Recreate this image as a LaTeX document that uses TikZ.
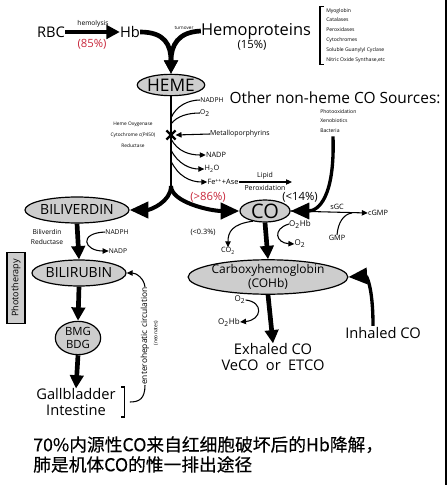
\documentclass[tikz,border=0pt]{standalone}
\usepackage{fontspec}
\setmainfont{Open Sans}
\newfontfamily\cjk[FakeBold=0.3]{Noto Sans CJK SC}
\usetikzlibrary{arrows.meta,shapes.geometric,shapes.misc}
\definecolor{pctred}{RGB}{200,40,60}
\definecolor{bubble}{RGB}{205,205,205}
\newcommand\fsz[2]{\fontsize{#1}{#2}\selectfont}

\begin{document}
\begin{tikzpicture}[
			x = 0.75pt, y = -0.75pt,
			every node/.style = {inner sep=0pt},
			bub/.style = {ellipse, draw, line width=0.9pt, fill=bubble},
			fat/.style = {line width=3.5pt, -{Triangle[length=10pt,width=10pt]}},
			bigfat/.style = {line width=3pt, -{Triangle[length=14pt,width=12pt]}},
			thin/.style = {line width=0.8pt, -{Triangle[length=4.5pt,width=4pt]}},
			wire/.style = {line width=0.8pt}
			]
			\useasboundingbox (0,0) rectangle (448,485);
			\draw[line width=1.5pt] (446,0) -- (446,485);

			% top row
			\node[font=\fsz{11}{13}] (rbc) at (51,32) {RBC};
			\node[font=\fsz{11}{13}] (hb) at (130,32) {Hb};
			\node[font=\fsz{12.3}{13}] (hemo) at (256,31) {Hemoproteins};
			\node[font=\fsz{5}{6}] (hly) at (93,24) {hemolysis};
			\node[font=\fsz{8.5}{10},text=pctred] (p85) at (92,44) {(85\%)};
			\node[font=\fsz{8.5}{10}] (p15) at (252,45) {(15\%)};
			\node[font=\fsz{3.5}{4}] (turn) at (184,28) {turnover};
			\node[font=\fsz{3.8}{7.4},align=left,anchor=north west] (hplist) at (326,8)
				{Myoglobin\\Catalases\\Peroxidases\\Cytochromes\\Soluble Guanylyl Cyclase\\Nitric Oxide Synthase,etc};
			\draw[wire,line width=1pt] ([xshift=-1.5pt,yshift=1pt]hplist.north west) -- ++(-3pt,0)
				|- ([xshift=-1.5pt,yshift=-1pt]hplist.south west);

			\node[bub,minimum width=46.5pt,minimum height=16pt,font=\fsz{13}{14}] (heme) at (171,85) {HEME};
			\draw[fat] (rbc.east) -- (hb.west);
			\draw[fat] (hb.east) .. controls (165,32) and (171,45) .. (heme.north);
			\draw[fat] (hemo.west) .. controls (178,32) and (171,45) .. (heme.north);

			% heme oxygenase line
			\coordinate (split) at (171,186);
			\draw[line width=1.6pt] (heme.south) -- (split);
			\node[cross out,draw,line width=1.8pt,minimum size=5pt] (ho) at (171,135) {};
			\node[font=\fsz{3.6}{8.4},align=center] (honame) at (133,135) {Heme Oxygenase\\Cytochrome c(P450)\\Reductase};
			\node[font=\fsz{5.2}{6}] (metal) at (240,134) {Metalloporphyrins};
			\draw[thin] (metal.west) -- (ho.east);

			\node[font=\fsz{5}{6}] (nadph1) at (212,100) {NADPH};
			\node[font=\fsz{5}{6}] (o2a) at (205,113) {O\textsubscript{2}};
			\coordinate (j1) at (171,118);
			\coordinate (j2) at (171,124);
			\draw[wire] (j1) .. controls (176,106) and (188,100) .. (nadph1.west);
			\draw[wire] (j2) .. controls (177,116) and (188,113) .. (o2a.west);

			\node[font=\fsz{5.5}{6}] (nadp1) at (216,155) {NADP};
			\node[font=\fsz{5.5}{6}] (h2o) at (212,169) {H\textsubscript{2}O};
			\node[font=\fsz{5.5}{6}] (fe) at (223,182) {Fe\textsuperscript{++}+Ase};
			\coordinate (j3) at (171,139);
			\coordinate (j4) at (171,150);
			\coordinate (j5) at (171,161);
			\draw[thin] (j3) .. controls (178,152) and (190,155) .. (nadp1.west);
			\draw[thin] (j4) .. controls (178,164) and (190,169) .. (h2o.west);
			\draw[thin] (j5) .. controls (178,176) and (190,182) .. (fe.west);

			\node[font=\fsz{5.2}{6}] (lipid) at (265,176) {Lipid};
			\node[font=\fsz{5.2}{6}] (perox) at (265,188) {Peroxidation};
			\coordinate (lpend) at (292,182);
			\draw[thin] (fe.east) -- (lpend);

			% CO sources
			\node[font=\fsz{11.6}{13}] (other) at (335,98) {Other non-heme CO Sources:};
			\node[font=\fsz{3.8}{7.1},align=left,anchor=north west] (srclist) at (320,109)
				{Photooxidation\\Xenobiotics\\Bacteria};

			\node[bub,minimum width=37.5pt,minimum height=16.5pt,font=\fsz{15}{16}] (co) at (265,211) {CO};
			\node[bub,minimum width=65pt,minimum height=19.5pt,font=\fsz{10.5}{11}] (bv) at (77,210) {BILIVERDIN};
			\draw[bigfat] (split) .. controls (171,202) and (150,210) .. (bv.east);
			\draw[bigfat] (split) .. controls (171,202) and (210,211) .. (co.west);
			\node[font=\fsz{8.5}{9},text=pctred] (p86) at (208,197) {(>86\%)};
			\node[font=\fsz{8.5}{9}] (p14) at (300,197) {(<14\%)};
			\draw[bigfat,line width=2.5pt] ([xshift=-4pt,yshift=-3pt]srclist.south) .. controls (335,198) and (318,211) .. (co.east);

			\node[font=\fsz{5.5}{6}] (cgmp) at (378,213) {cGMP};
			\node[font=\fsz{5.5}{6}] (sgc) at (337,207) {sGC};
			\node[font=\fsz{5.5}{6}] (gmp) at (337,238) {GMP};
			\coordinate (gmpjoin) at (352,213);
			\draw[thin] (co.east) -- (cgmp.west);
			\draw[wire] (gmp.north) .. controls (338,222) and (344,214) .. (gmpjoin);

			\node[font=\fsz{5.5}{6}] (p03) at (203,232) {(<0.3\%)};
			\node[font=\fsz{5.5}{6}] (co2) at (228,251) {CO\textsubscript{2}};
			\draw[thin] (co.220) .. controls (232,224) and (228,232) .. (co2.north);
			\node[font=\fsz{6}{7}] (o2hb1) at (300,224) {O\textsubscript{2}Hb};
			\node[font=\fsz{6}{7}] (o2b) at (300,244) {O\textsubscript{2}};
			\draw[thin] (o2hb1.west) .. controls (272,229) and (276,243) .. (o2b.west);

			% COHb
			\node[bub,minimum width=97.5pt,minimum height=20pt,align=center,font=\fsz{9}{10}] (cohb) at (268,277)
				{Carboxyhemoglobin\\(COHb)};
			\draw[fat] (co.south) -- (cohb.north);
			\node[font=\fsz{6}{7}] (o2c) at (240,300) {O\textsubscript{2}};
			\node[font=\fsz{6}{7}] (o2hb2) at (229,322) {O\textsubscript{2}Hb};
			\draw[thin] (o2c.east) .. controls (264,302) and (262,320) .. (o2hb2.east);
			\node[font=\fsz{11}{11.5},align=center] (exh) at (273,357) {Exhaled CO\\VeCO\hspace{0.5em}or\hspace{0.5em}ETCO};
			\draw[fat] (cohb.south) -- (exh.north);
			\node[font=\fsz{11}{12}] (inh) at (383,333) {Inhaled CO};
			\draw[bigfat,line width=2.5pt] ([xshift=-7.5pt,yshift=1pt]inh.north) .. controls (373,285) and (366,276) .. (cohb.east);

			% bilirubin branch
			\node[font=\fsz{5}{7.5},align=center] (bvr) at (47,237) {Biliverdin\\Reductase};
			\node[bub,minimum width=58.5pt,minimum height=19.5pt,font=\fsz{10.5}{11}] (br) at (79,273) {BILIRUBIN};
			\draw[fat] (bv.south) -- (br.north);
			\node[font=\fsz{5}{6}] (nadph2) at (117,232) {NADPH};
			\node[font=\fsz{5}{6}] (nadp2) at (118,251) {NADP};
			\draw[thin] (nadph2.west) .. controls (78,233) and (84,251) .. (nadp2.west);
			\node[draw,fill=bubble,line width=0.9pt,rotate=90,minimum width=53pt,minimum height=13.5pt,font=\fsz{6.8}{7}] (photo) at (16,288) {Phototherapy};

			\node[bub,minimum width=34pt,minimum height=25pt,align=center,font=\fsz{8.5}{9.5}] (bmg) at (78,338) {BMG\\BDG};
			\draw[fat] (br.south) -- (bmg.north);
			\node[font=\fsz{11}{11.3},align=center] (gb) at (76,402) {Gallbladder\\Intestine};
			\draw[fat] (bmg.south) -- (gb.north);
			\draw[line width=1.2pt] ([xshift=4pt,yshift=1pt]gb.north east) -- ++(2.5pt,0)
				|- ([xshift=4pt,yshift=-1pt]gb.south east);

			\node[rotate=90,font=\fsz{6.3}{7}] (ehc) at (145,336) {enterohepatic circulation};
			\node[rotate=90,font=\fsz{3.8}{4}] (neo) at (156,333) {(neonates)};
			\draw[wire] ([xshift=10.5pt]gb.east) .. controls (139,402) and (145,399) .. (ehc.west);
			\draw[thin] (ehc.east) .. controls (144,278) and (136,273) .. (br.east);

			% note
			\node[font=\cjk\fsz{13.3}{15},align=left,anchor=north west] (note) at (33,436)
				{70\%内源性CO来自红细胞破坏后的Hb降解，\\肺是机体CO的惟一排出途径};
		\end{tikzpicture}
\end{document}
